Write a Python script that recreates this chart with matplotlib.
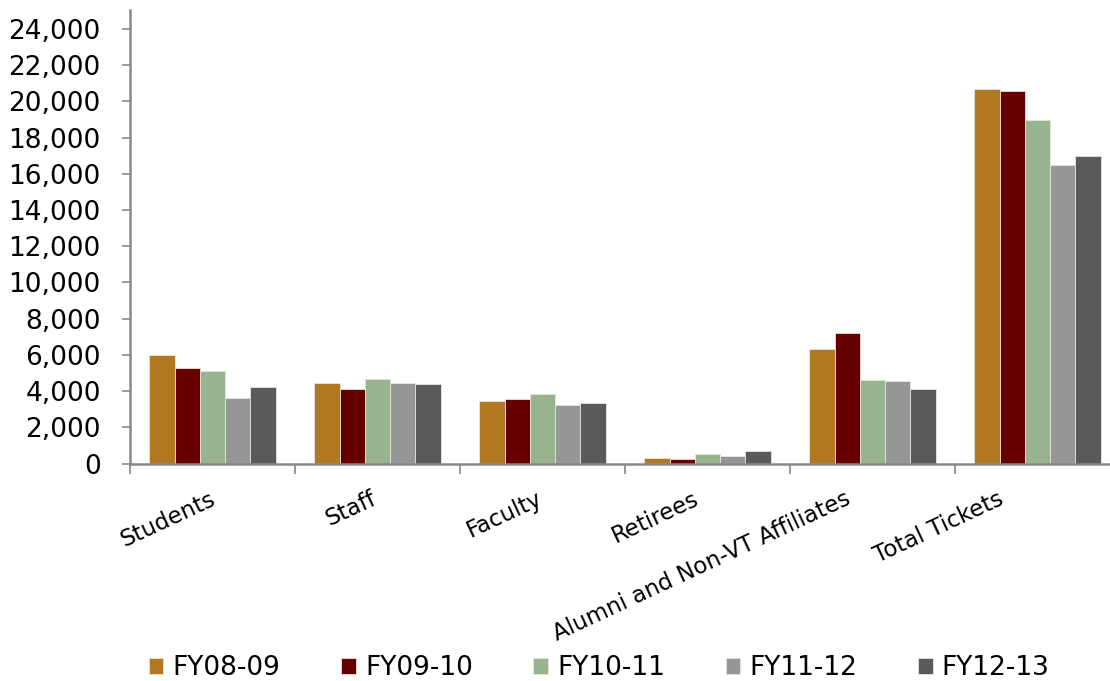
import numpy as np
import matplotlib.pyplot as plt
from matplotlib.ticker import FuncFormatter
from matplotlib.transforms import ScaledTranslation

categories = ['Students', 'Staff', 'Faculty', 'Retirees',
              'Alumni and Non-VT Affiliates', 'Total Tickets']
years = ['FY08-09', 'FY09-10', 'FY10-11', 'FY11-12', 'FY12-13']

fy08_09 = [6000, 4430, 3440, 310, 6300, 20700]
fy09_10 = [5260, 4120, 3550, 260, 7200, 20600]
fy10_11 = [5090, 4650, 3860, 510, 4620, 18950]
fy11_12 = [3600, 4450, 3230, 420, 4560, 16500]
fy12_13 = [4230, 4390, 3330, 680, 4120, 16980]
series = [fy08_09, fy09_10, fy10_11, fy11_12, fy12_13]

colors = ['#b07820', '#660000', '#98b48e', '#969696', '#5a5a5a']

plt.rcParams['font.family'] = ['DejaVu Sans']

fig = plt.figure(figsize=(11.1, 6.81), dpi=100)
ax = fig.add_axes([130 / 1110, 217.5 / 681, 990 / 1110, 453.5 / 681])

x = np.arange(len(categories))
w = 0.153
for i, (vals, c) in enumerate(zip(series, colors)):
    ax.bar(x + (i - 2) * w, vals, width=w, color=c, edgecolor='#e8e4dc',
           linewidth=0.6, label=years[i], zorder=2)

ax.set_xlim(-0.5, len(categories) - 0.5)
ax.set_ylim(0, 25050)
ax.set_yticks(np.arange(0, 24001, 2000))
ax.yaxis.set_major_formatter(FuncFormatter(lambda v, p: f'{int(v):,}'))

axis_grey = '#898989'
for side in ['top', 'right']:
    ax.spines[side].set_visible(False)
for side in ['left', 'bottom']:
    ax.spines[side].set_color(axis_grey)
    ax.spines[side].set_linewidth(1.8)

ax.tick_params(axis='y', direction='out', length=6, width=1.2, color=axis_grey,
               labelsize=19, pad=15, labelcolor='black')

# category labels at centres, short tick marks at the boundaries
ax.set_xticks(x)
ax.set_xticklabels(categories, rotation=25, ha='right', rotation_mode='anchor',
                   fontsize=16.5)
ax.set_xticks(np.arange(-0.5, len(categories), 1), minor=True)
ax.tick_params(axis='x', which='major', length=0, pad=17)
ax.tick_params(axis='x', which='minor', direction='out', length=7, width=1.2,
               color=axis_grey)

# longer labels sit a little further left of their category
shift_px = [-3, -7, -6, -15, -28, -40]
for lab, dx in zip(ax.get_xticklabels(), shift_px):
    lab.set_transform(lab.get_transform()
                      + ScaledTranslation(dx / 100, 0, fig.dpi_scale_trans))

fig.legend(loc='lower left', bbox_to_anchor=(133 / 1110, -16 / 681), ncol=5,
           frameon=False, fontsize=19, handlelength=0.55, handleheight=0.55,
           handletextpad=0.35, columnspacing=2.3, borderaxespad=0.2)

fig.savefig('out.png', dpi=100)
